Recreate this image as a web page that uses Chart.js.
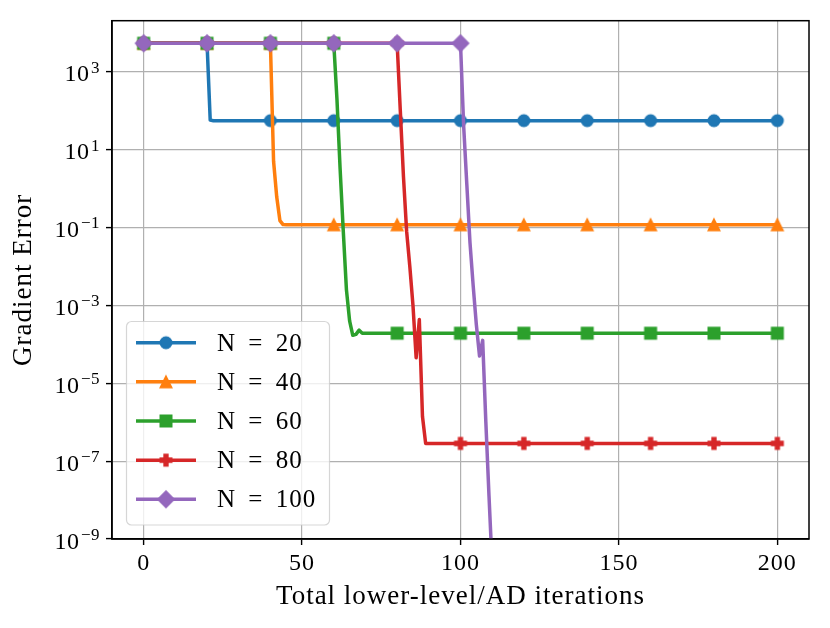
<!DOCTYPE html>
<html><head><meta charset="utf-8">
<script src="https://cdn.jsdelivr.net/npm/chart.js@4/dist/chart.umd.min.js"></script>
<style>html,body{margin:0;padding:0;background:#fff}canvas{display:block}</style>
</head><body>
<canvas id="c" width="830" height="628"></canvas>
<script>
// ---- data ----
const seriesLabels = ['N = 20', 'N = 40', 'N = 60', 'N = 80', 'N = 100'];

const iters20 = [0, 20, 21, 22, 40, 60, 80, 100, 120, 140, 160, 180, 200];
const err20   = [5350, 5350, 57, 55, 55, 55, 55, 55, 55, 55, 55, 55, 55];

const iters40 = [0, 20, 40, 41, 42, 43, 44, 45, 60, 80, 100, 120, 140, 160, 180, 200];
const err40   = [5350, 5350, 5350, 5, 0.6, 0.15, 0.118, 0.117, 0.117, 0.117, 0.117, 0.117, 0.117, 0.117, 0.117, 0.117];

const iters60 = [0, 20, 40, 60, 61, 62, 63, 64, 65, 66, 67, 68, 69, 80, 100, 120, 140, 160, 180, 200];
const err60   = [5350, 5350, 5350, 5350, 200, 3.2, 0.08, 2.5e-3, 4e-4, 1.7e-4, 1.8e-4, 2.3e-4, 1.92e-4, 1.92e-4, 1.92e-4, 1.92e-4, 1.92e-4, 1.92e-4, 1.92e-4, 1.92e-4];

const iters80 = [0, 20, 40, 60, 80, 81, 82, 83, 84, 85, 86, 87, 88, 89, 100, 120, 140, 160, 180, 200];
const err80   = [5350, 5350, 5350, 5350, 5350, 100, 2.0, 0.079, 0.01, 1e-3, 4.5e-5, 4.3e-4, 1.4e-6, 2.85e-7, 2.85e-7, 2.85e-7, 2.85e-7, 2.85e-7, 2.85e-7, 2.85e-7];

const iters100 = [0, 20, 40, 60, 80, 100, 101, 102, 103, 104, 105, 106, 107, 108, 109, 110, 111];
const err100   = [5350, 5350, 5350, 5350, 5350, 5350, 40, 1.26, 0.04, 3.2e-3, 3.2e-4, 5e-5, 1.26e-4, 1e-6, 1.26e-8, 2e-10, 3e-12];

const xTickValues = [0, 50, 100, 150, 200];
const yTickExps = [-9, -7, -5, -3, -1, 1, 3];
const xTitle = 'Total lower-level/AD iterations';
const yTitle = 'Gradient Error';

// ---- styles ----
const colors = ['#1f77b4', '#ff7f0e', '#2ca02c', '#d62728', '#9467bd'];
const shapes = ['circle', 'triangle', 'square', 'plus', 'diamond'];
const FONT = '"Liberation Serif", "Times New Roman", serif';

function makeMarker(shape, color) {
  const M = 11.5, s = 26;
  const c = document.createElement('canvas');
  c.width = s; c.height = s;
  const g = c.getContext('2d');
  g.translate(s / 2, s / 2);
  g.fillStyle = color; g.strokeStyle = color; g.lineWidth = 1.5; g.lineJoin = 'miter';
  const h = M / 2;
  g.beginPath();
  if (shape === 'circle') g.arc(0, 0, h, 0, Math.PI * 2);
  else if (shape === 'triangle') { g.moveTo(0, -h); g.lineTo(h, h); g.lineTo(-h, h); g.closePath(); }
  else if (shape === 'square') g.rect(-h, -h, M, M);
  else if (shape === 'diamond') { const d = h * Math.SQRT2; g.moveTo(0, -d); g.lineTo(d, 0); g.lineTo(0, d); g.lineTo(-d, 0); g.closePath(); }
  else if (shape === 'plus') {
    const a = h, b = M / 6;
    const pts = [[-b,-a],[b,-a],[b,-b],[a,-b],[a,b],[b,b],[b,a],[-b,a],[-b,b],[-a,b],[-a,-b],[-b,-b]];
    g.moveTo(pts[0][0], pts[0][1]);
    for (let i = 1; i < pts.length; i++) g.lineTo(pts[i][0], pts[i][1]);
    g.closePath();
  }
  g.fill(); g.stroke();
  return c;
}
const markers = shapes.map((s, i) => makeMarker(s, colors[i]));

const allIters = [iters20, iters40, iters60, iters80, iters100];
const allErrs = [err20, err40, err60, err80, err100];

const datasets = seriesLabels.map((label, i) => ({
  label,
  data: allIters[i].map((x, j) => ({ x, y: allErrs[i][j] })),
  borderColor: colors[i],
  backgroundColor: colors[i],
  borderWidth: 3.5,
  borderJoinStyle: 'round',
  tension: 0,
  pointStyle: markers[i],
  pointRadius: (ctx) => (ctx.raw && ctx.raw.x % 20 === 0 ? 6 : 0),
  pointHoverRadius: 0,
  order: seriesLabels.length - i,
  clip: 0,
}));

const decorPlugin = {
  id: 'decor',
  beforeDraw(chart) {
    chart.ctx.letterSpacing = '1px';
  },
  afterDraw(chart) {
    const ctx = chart.ctx;
    const a = chart.chartArea;
    ctx.save();
    // spines
    ctx.strokeStyle = '#000'; ctx.lineWidth = 1.5;
    ctx.strokeRect(a.left, a.top, a.right - a.left, a.bottom - a.top);
    // y tick labels with superscripts
    const ys = chart.scales.y;
    ctx.fillStyle = '#000';
    ctx.textBaseline = 'alphabetic';
    ctx.textAlign = 'right';
    ctx.letterSpacing = '0.5px';
    for (const e of yTickExps) {
      const py = ys.getPixelForValue(Math.pow(10, e));
      const expStr = e < 0 ? '\u2212' + (-e) : String(e);
      ctx.font = '17px ' + FONT;
      const ew = ctx.measureText(expStr).width;
      const right = 100;
      ctx.fillText(expStr, right, py + 1);
      ctx.font = '24px ' + FONT;
      ctx.fillText('10', right - ew - 1.5, py + 9.5);
    }
    // legend
    const lx = 126.5, ly = 321.5, lw = 203, lh = 203.5, r = 5;
    ctx.beginPath();
    ctx.moveTo(lx + r, ly);
    ctx.arcTo(lx + lw, ly, lx + lw, ly + lh, r);
    ctx.arcTo(lx + lw, ly + lh, lx, ly + lh, r);
    ctx.arcTo(lx, ly + lh, lx, ly, r);
    ctx.arcTo(lx, ly, lx + lw, ly, r);
    ctx.closePath();
    ctx.fillStyle = 'rgba(255,255,255,0.8)';
    ctx.fill();
    ctx.strokeStyle = 'rgba(204,204,204,0.8)';
    ctx.lineWidth = 1.2;
    ctx.stroke();
    ctx.textAlign = 'left';
    ctx.textBaseline = 'middle';
    ctx.font = '25px ' + FONT;
    ctx.letterSpacing = '1px';
    ctx.wordSpacing = '5px';
    seriesLabels.forEach((label, i) => {
      const y = 342.7 + i * 39.15;
      ctx.strokeStyle = colors[i];
      ctx.lineWidth = 3.5;
      ctx.beginPath(); ctx.moveTo(136, y); ctx.lineTo(196, y); ctx.stroke();
      const m = markers[i];
      ctx.drawImage(m, 166 - m.width / 2, y - m.height / 2);
      ctx.fillStyle = '#000';
      ctx.fillText(label, 217, y + 1.5);
    });
    ctx.restore();
  }
};

new Chart(document.getElementById('c'), {
  type: 'line',
  data: { datasets },
  plugins: [decorPlugin],
  options: {
    responsive: false,
    animation: false,
    events: [],
    layout: { padding: { left: 0, top: 20.7, right: 21, bottom: 0 } },
    plugins: { legend: { display: false }, tooltip: { enabled: false } },
    scales: {
      x: {
        type: 'linear',
        min: -10, max: 210,
        afterBuildTicks: (s) => { s.ticks = xTickValues.map(v => ({ value: v })); },
        afterFit: (s) => { s.height = 89; },
        ticks: { color: '#000', font: { family: FONT, size: 24 }, padding: 4, maxRotation: 0, autoSkip: false },
        grid: { color: '#b0b0b0', lineWidth: 1.2, drawTicks: true, tickLength: 6, tickColor: '#000', tickWidth: 1.4 },
        border: { display: true, color: '#000', width: 1.5 },
        title: { display: true, text: xTitle, color: '#000', font: { family: FONT, size: 27 }, padding: { top: 0, bottom: 15 } }
      },
      y: {
        type: 'logarithmic',
        min: 1e-9, max: 2.03e4,
        afterBuildTicks: (s) => { s.ticks = yTickExps.map(e => ({ value: Math.pow(10, e) })); },
        afterFit: (s) => { s.width = 112; },
        ticks: { display: false },
        grid: { color: '#b0b0b0', lineWidth: 1.2, drawTicks: true, tickLength: 6, tickColor: '#000', tickWidth: 1.4 },
        border: { display: true, color: '#000', width: 1.5 },
        title: { display: true, text: yTitle, color: '#000', font: { family: FONT, size: 27 }, padding: { top: 8, bottom: 0 } }
      }
    }
  }
});
</script>
</body></html>
